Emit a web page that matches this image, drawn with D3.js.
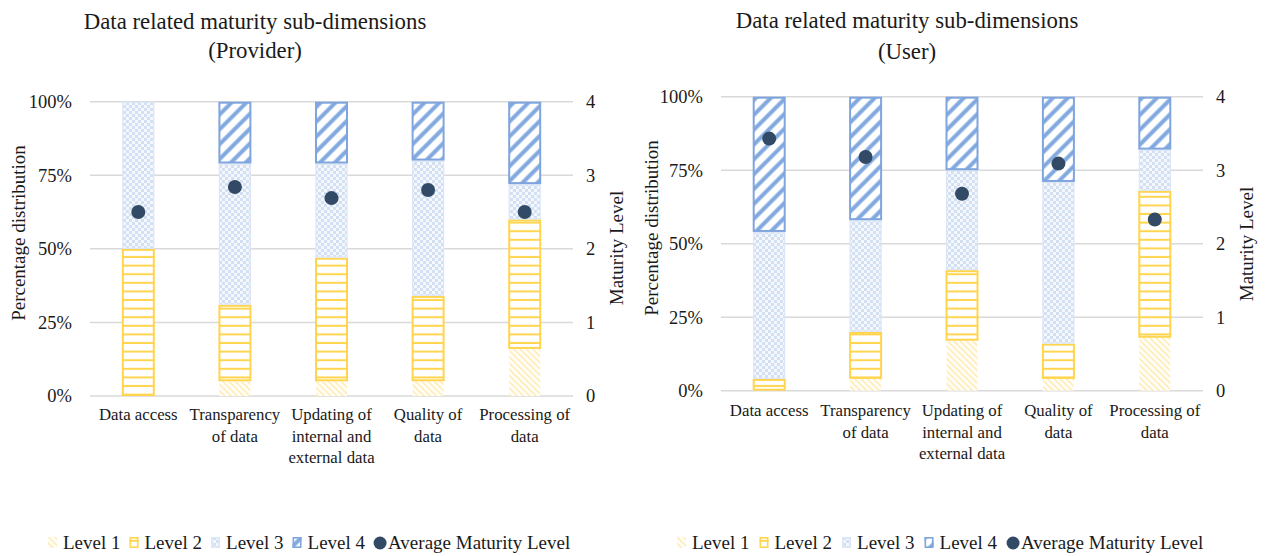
<!DOCTYPE html>
<html>
<head>
<meta charset="utf-8">
<script src="https://cdn.jsdelivr.net/npm/d3@7/dist/d3.min.js"></script>
<style>
  html, body { margin: 0; padding: 0; background: #fff; }
  svg text { font-family: 'Liberation Serif', 'Times New Roman', Times, serif !important; }
</style>
</head>
<body>
<svg id="chart" width="1265" height="556"></svg>
<script>
// Sub-dimension categories and their wrapped tick labels
const categories = ["Data access", "Transparency of data", "Updating of internal and external data", "Quality of data", "Processing of data"];
const categoryLines = [["Data access"], ["Transparency", "of data"], ["Updating of", "internal and", "external data"], ["Quality of", "data"], ["Processing of", "data"]];

// Provider: share of respondents per maturity level (%)
const providerLevel1 = [0, 5, 5, 5, 16];
const providerLevel2 = [50, 26, 42, 29, 44];
const providerLevel3 = [50, 48, 32, 46, 12];
const providerLevel4 = [0, 21, 21, 20, 28];
const providerAverage = [2.50, 2.84, 2.69, 2.80, 2.50];

// User: share of respondents per maturity level (%)
const userLevel1 = [0, 4, 17, 4, 18];
const userLevel2 = [4, 16, 24, 12, 50];
const userLevel3 = [50, 38, 34, 55, 14];
const userLevel4 = [46, 42, 25, 29, 18];
const userAverage = [3.43, 3.18, 2.68, 3.09, 2.33];

// Axis ticks
const percentTicks = [0, 25, 50, 75, 100];
const percentTickLabels = ["0%", "25%", "50%", "75%", "100%"];
const levelTicks = [0, 1, 2, 3, 4];
const levelTickLabels = ["0", "1", "2", "3", "4"];

const seriesKeys = ["Level 1", "Level 2", "Level 3", "Level 4"];
const legendLabels = ["Level 1", "Level 2", "Level 3", "Level 4", "Average Maturity Level"];

const FONT = "'Liberation Serif', 'Times New Roman', Times, serif";
const svg = d3.select("#chart");
const defs = svg.append("defs");

// Fill patterns for the four level series
function stripePattern(id, size, angle, color, width, opacity) {
  const p = defs.append("pattern")
    .attr("id", id).attr("patternUnits", "userSpaceOnUse")
    .attr("width", size).attr("height", size)
    .attr("patternTransform", `rotate(${angle})`);
  p.append("rect").attr("width", size).attr("height", size).attr("fill", "#fff");
  p.append("rect").attr("x", size / 2 - width / 2).attr("y", 0).attr("width", width).attr("height", size)
    .attr("fill", color).attr("fill-opacity", opacity);
}
stripePattern("pLevel1", 4.4, -45, "#FFE59A", 1.7, 0.8);
stripePattern("pLevel4", 10.5, 45, "#82A8E0", 4, 1);

(function () {
  const p = defs.append("pattern").attr("id", "pLevel2").attr("patternUnits", "userSpaceOnUse")
    .attr("width", 10).attr("height", 8.6);
  p.append("rect").attr("width", 10).attr("height", 8.6).attr("fill", "#fff");
  p.append("rect").attr("x", 0).attr("y", 6.6).attr("width", 10).attr("height", 2).attr("fill", "#FFD54F");
  const c = defs.append("pattern").attr("id", "pLevel3").attr("patternUnits", "userSpaceOnUse")
    .attr("width", 6).attr("height", 6);
  c.append("rect").attr("width", 6).attr("height", 6).attr("fill", "#F4F7FC");
  c.append("rect").attr("width", 3).attr("height", 3).attr("fill", "#D3E0F3");
  c.append("rect").attr("x", 3).attr("y", 3).attr("width", 3).attr("height", 3).attr("fill", "#D3E0F3");
})();

const seriesStyle = {
  "Level 1": { fill: "url(#pLevel1)", stroke: "none", sw: 0 },
  "Level 2": { fill: "url(#pLevel2)", stroke: "#FFD54F", sw: 2 },
  "Level 3": { fill: "url(#pLevel3)", stroke: "#DCE6F5", sw: 1.2 },
  "Level 4": { fill: "url(#pLevel4)", stroke: "#7FA5DE", sw: 2 }
};
const legendSwatch = {
  "Level 1": "#FFF0C8", "Level 2": "#FFD54F", "Level 3": "#DCE6F5", "Level 4": "#7FA5DE"
};
const dotColor = "#324A66";
const gridColor = "#D9D9D9";
const textColor = "#1a1a1a";

function drawChart(cfg) {
  const g = svg.append("g");
  const rows = categories.map((c, i) => ({
    category: c,
    "Level 1": cfg.l1[i], "Level 2": cfg.l2[i], "Level 3": cfg.l3[i], "Level 4": cfg.l4[i],
    avg: cfg.avg[i]
  }));

  const x = d3.scaleBand().domain(categories).range([cfg.x0, cfg.x1]).paddingInner(0).paddingOuter(0);
  const y = d3.scaleLinear().domain([0, 100]).range([cfg.yBot, cfg.yTop]);
  const y2 = d3.scaleLinear().domain([0, 4]).range([cfg.yBot, cfg.yTop]);

  // Gridlines
  g.append("g").selectAll("line").data(percentTicks).join("line")
    .attr("x1", cfg.x0).attr("x2", cfg.x1)
    .attr("y1", d => y(d)).attr("y2", d => y(d))
    .attr("stroke", gridColor).attr("stroke-width", 1.5);

  // Left axis (percentage)
  const axL = g.append("g").attr("transform", `translate(${cfg.x0 - 18},0)`)
    .call(d3.axisLeft(y).tickValues(percentTicks).tickFormat((d, i) => percentTickLabels[i]).tickSize(0).tickPadding(0));
  axL.attr("font-family", FONT);
  axL.select(".domain").remove();
  axL.selectAll("text").attr("font-size", 18.5).attr("fill", textColor);

  // Right axis (maturity level)
  const axR = g.append("g").attr("transform", `translate(${cfg.x1 + 13},0)`)
    .call(d3.axisRight(y2).tickValues(levelTicks).tickFormat((d, i) => levelTickLabels[i]).tickSize(0).tickPadding(0));
  axR.attr("font-family", FONT);
  axR.select(".domain").remove();
  axR.selectAll("text").attr("font-size", 18.5).attr("fill", textColor);

  // Stacked bars
  const stacked = d3.stack().keys(seriesKeys)(rows);
  const barW = 31;
  g.append("g").selectAll("g").data(stacked).join("g")
    .each(function (series) {
      const st = seriesStyle[series.key];
      d3.select(this).selectAll("rect").data(series.filter(d => d[1] - d[0] > 0)).join("rect")
        .attr("x", d => x(d.data.category) + x.bandwidth() / 2 - barW / 2)
        .attr("width", barW)
        .attr("y", d => y(d[1]) + st.sw / 2)
        .attr("height", d => Math.max(0, y(d[0]) - y(d[1]) - st.sw))
        .attr("fill", st.fill)
        .attr("stroke", st.stroke)
        .attr("stroke-width", st.sw);
    });

  // Average maturity dots
  g.append("g").selectAll("circle").data(rows).join("circle")
    .attr("cx", d => x(d.category) + x.bandwidth() / 2)
    .attr("cy", d => y2(d.avg))
    .attr("r", 7)
    .attr("fill", dotColor);

  // Category labels
  const lab = g.append("g").selectAll("text").data(categories).join("text")
    .attr("text-anchor", "middle")
    .attr("font-size", 16.8)
    .attr("fill", textColor)
    .attr("x", d => x(d) + x.bandwidth() / 2)
    .attr("y", cfg.labelY);
  lab.each(function (d, i) {
    d3.select(this).selectAll("tspan").data(categoryLines[i]).join("tspan")
      .attr("x", x(d) + x.bandwidth() / 2)
      .attr("dy", (t, j) => j === 0 ? 0 : 21.5)
      .text(t => t);
  });

  // Titles
  g.append("text").attr("text-anchor", "middle").attr("font-size", 22.8).attr("fill", textColor)
    .attr("x", cfg.titleX).attr("y", cfg.titleY[0]).text(cfg.title[0]);
  g.append("text").attr("text-anchor", "middle").attr("font-size", 22.8).attr("fill", textColor)
    .attr("x", cfg.titleX).attr("y", cfg.titleY[1]).text(cfg.title[1]);

  // Axis titles
  g.append("text").attr("text-anchor", "middle").attr("font-size", 19).attr("fill", textColor)
    .attr("transform", `translate(${cfg.leftTitleX},${cfg.leftTitleY}) rotate(-90)`)
    .text("Percentage distribution");
  g.append("text").attr("text-anchor", "middle").attr("font-size", 19).attr("fill", textColor)
    .attr("transform", `translate(${cfg.rightTitleX},${cfg.rightTitleY}) rotate(-90)`)
    .text("Maturity Level");

  // Legend
  const leg = g.append("g");
  let cx = cfg.legendX;
  const ly = cfg.legendY;
  legendLabels.forEach((name, i) => {
    if (i < 4) {
      const st = seriesStyle[name];
      leg.append("rect").attr("x", cx).attr("y", ly - 12).attr("width", 9).attr("height", 11)
        .attr("fill", st.fill);
      if (st.sw) {
        leg.append("rect").attr("x", cx + 0.8).attr("y", ly - 11.2).attr("width", 7.4).attr("height", 9.4)
          .attr("fill", "none").attr("stroke", legendSwatch[name]).attr("stroke-width", 1.6);
      }
      cx += 15;
    } else {
      leg.append("circle").attr("cx", cx + 6).attr("cy", ly - 6).attr("r", 6.5).attr("fill", dotColor);
      cx += 14;
    }
    const t = leg.append("text").attr("x", cx).attr("y", ly).attr("font-size", 19).attr("fill", textColor).text(name);
    cx += t.node().getComputedTextLength() + cfg.legendGap;
  });
}

drawChart({
  l1: providerLevel1, l2: providerLevel2, l3: providerLevel3, l4: providerLevel4, avg: providerAverage,
  x0: 90, x1: 573, yTop: 101.7, yBot: 396,
  labelY: 420,
  title: ["Data related maturity sub-dimensions", "(Provider)"], titleX: 255, titleY: [29, 58],
  leftTitleX: 25, leftTitleY: 233, rightTitleX: 623, rightTitleY: 248,
  legendX: 48, legendY: 549, legendGap: 9
});

drawChart({
  l1: userLevel1, l2: userLevel2, l3: userLevel3, l4: userLevel4, avg: userAverage,
  x0: 721, x1: 1203, yTop: 96.7, yBot: 390.7,
  labelY: 416,
  title: ["Data related maturity sub-dimensions", "(User)"], titleX: 907, titleY: [28, 59],
  leftTitleX: 658, leftTitleY: 228, rightTitleX: 1253, rightTitleY: 244,
  legendX: 677, legendY: 549, legendGap: 10
});
</script>
</body>
</html>
